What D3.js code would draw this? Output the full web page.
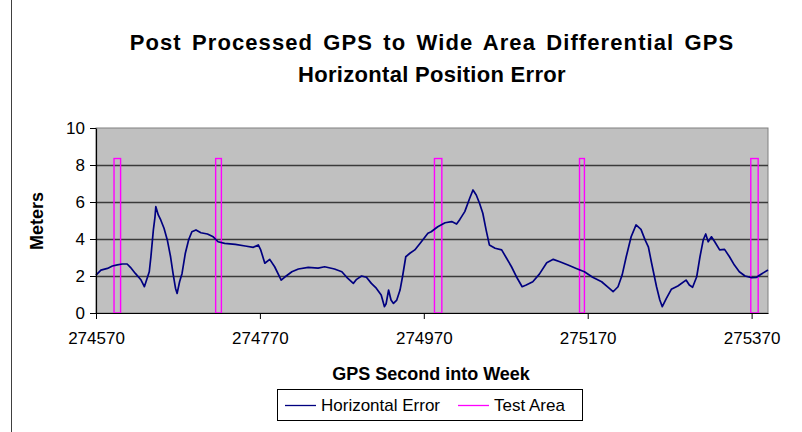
<!DOCTYPE html>
<html>
<head>
<meta charset="utf-8">
<script src="https://cdn.jsdelivr.net/npm/d3@7"></script>
<style>
  body { margin: 0; background: #fff; }
  svg { display: block; font-family: Arial, "Liberation Sans", sans-serif; }
</style>
</head>
<body>
<div id="chart"></div>
<script>
// GPS second into week vs horizontal error (meters)
const gpsSeconds = [
  274570, 274576, 274584, 274590, 274596, 274602, 274608, 274612, 274618, 274625,
  274629, 274633, 274635, 274637, 274640, 274642, 274643, 274646, 274649, 274653,
  274657, 274661, 274664, 274667, 274669, 274672, 274675, 274679, 274683, 274687,
  274692, 274698, 274706, 274713, 274719, 274727, 274740, 274752, 274762, 274768,
  274771, 274776, 274782, 274788, 274796, 274800, 274809, 274817, 274829, 274841,
  274849, 274861, 274870, 274876, 274884, 274888, 274894, 274900, 274906, 274912,
  274918, 274922, 274924, 274927, 274930, 274933, 274937, 274941, 274944, 274948,
  274953, 274959, 274967, 274975, 274979, 274987, 274996, 275004, 275010, 275014,
  275020, 275026, 275030, 275034, 275038, 275042, 275046, 275050, 275057, 275065,
  275071, 275077, 275083, 275090, 275095, 275103, 275111, 275120, 275128, 275136,
  275146, 275156, 275166, 275176, 275187, 275195, 275201, 275207, 275212, 275217,
  275223, 275229, 275235, 275240, 275244, 275248, 275254, 275258, 275261, 275266,
  275272, 275280, 275290, 275294, 275298, 275303, 275307, 275311, 275314, 275317,
  275321, 275325, 275331, 275337, 275343, 275349, 275355, 275362, 275370, 275376,
  275382, 275390
];
const horizError = [
  2.05, 2.32, 2.41, 2.54, 2.60, 2.65, 2.65, 2.47, 2.14, 1.78,
  1.42, 1.96, 2.23, 3.04, 4.49, 5.20, 5.75, 5.30, 5.03, 4.58,
  3.95, 3.04, 2.14, 1.34, 1.06, 1.69, 2.14, 3.23, 3.95, 4.39,
  4.49, 4.34, 4.27, 4.12, 3.85, 3.76, 3.71, 3.62, 3.55, 3.68,
  3.41, 2.69, 2.90, 2.50, 1.78, 1.93, 2.23, 2.38, 2.47, 2.43,
  2.50, 2.38, 2.23, 1.93, 1.60, 1.82, 2.00, 1.93, 1.60, 1.34,
  0.97, 0.34, 0.50, 1.24, 0.70, 0.52, 0.70, 1.24, 1.96, 3.04,
  3.23, 3.41, 3.85, 4.31, 4.39, 4.66, 4.88, 4.94, 4.81, 5.06,
  5.48, 6.20, 6.65, 6.38, 5.93, 5.39, 4.49, 3.68, 3.50, 3.41,
  2.96, 2.50, 1.96, 1.42, 1.51, 1.69, 2.10, 2.72, 2.90, 2.77,
  2.59, 2.41, 2.23, 1.93, 1.69, 1.39, 1.15, 1.42, 2.05, 3.04,
  4.12, 4.76, 4.52, 3.95, 3.58, 2.69, 1.42, 0.70, 0.34, 0.79,
  1.28, 1.46, 1.78, 1.51, 1.39, 1.96, 3.04, 3.95, 4.27, 3.85,
  4.12, 3.85, 3.41, 3.44, 3.04, 2.59, 2.23, 2.00, 1.91, 1.93,
  2.11, 2.32
];

// test areas (start / end second), drawn as tall open boxes
const testStart = [274592, 274716, 274983, 275160, 275369];
const testEnd   = [274600, 274723, 274992, 275166, 275378];
const testHeight = 8.35;

const xTicks = [274570, 274770, 274970, 275170, 275370];
const yTicks = [0, 2, 4, 6, 8, 10];
const titleLines = ["Post Processed GPS to Wide Area Differential GPS", "Horizontal Position Error"];

const width = 802, height = 432;
const plot = { left: 96, top: 128, right: 768, bottom: 313 };

const svg = d3.select("#chart").append("svg")
  .attr("width", width)
  .attr("height", height);

// chart frame edge on the left
svg.append("line")
  .attr("x1", 11.5).attr("x2", 11.5)
  .attr("y1", 0).attr("y2", height)
  .attr("stroke", "#404040");

const x = d3.scaleLinear().domain([274570, 275390]).range([plot.left, plot.right]);
const y = d3.scaleLinear().domain([0, 10]).range([plot.bottom, plot.top]);

svg.append("rect")
  .attr("x", plot.left).attr("y", plot.top)
  .attr("width", plot.right - plot.left)
  .attr("height", plot.bottom - plot.top)
  .attr("fill", "#c0c0c0")
  .attr("stroke", "#808080");

// gridlines
svg.append("g")
  .selectAll("line")
  .data(yTicks.filter(d => d > 0 && d < 10))
  .enter()
  .append("line")
  .attr("x1", plot.left).attr("x2", plot.right)
  .attr("y1", d => Math.round(y(d)) + 0.5)
  .attr("y2", d => Math.round(y(d)) + 0.5)
  .attr("stroke", "#3a3a3a")
  .attr("stroke-width", 1.3);

// test area boxes
svg.append("g")
  .selectAll("rect")
  .data(testStart.map((s, i) => ({ s: s, e: testEnd[i] })))
  .enter()
  .append("rect")
  .attr("x", d => x(d.s))
  .attr("y", y(testHeight))
  .attr("width", d => x(d.e) - x(d.s))
  .attr("height", y(0) - y(testHeight))
  .attr("fill", "none")
  .attr("stroke", "#ff00ff")
  .attr("stroke-width", 1.4);

// horizontal error trace
const line = d3.line()
  .x((d, i) => x(gpsSeconds[i]))
  .y(d => y(d));

svg.append("path")
  .datum(horizError)
  .attr("d", line)
  .attr("fill", "none")
  .attr("stroke", "#000080")
  .attr("stroke-width", 1.7)
  .attr("stroke-linejoin", "round");

// axes
const xAxis = svg.append("g")
  .attr("transform", `translate(0,${plot.bottom})`)
  .call(d3.axisBottom(x).tickValues(xTicks).tickFormat(d3.format("d")).tickSize(6).tickSizeOuter(0));
const yAxis = svg.append("g")
  .attr("transform", `translate(${plot.left},0)`)
  .call(d3.axisLeft(y).tickValues(yTicks).tickSize(6).tickSizeOuter(0));

[xAxis, yAxis].forEach(ax => {
  ax.select(".domain").attr("stroke", "#000").attr("stroke-width", 1.2);
  ax.selectAll(".tick line").attr("stroke", "#000");
  ax.selectAll("text")
    .attr("fill", "#000")
    .style("font-size", "17px")
    .style("font-family", "Arial, 'Liberation Sans', sans-serif");
});
xAxis.selectAll("text").attr("dy", "1.3em");
yAxis.selectAll("text").attr("x", -11);

// titles
svg.append("g")
  .selectAll("text")
  .data(titleLines)
  .enter()
  .append("text")
  .attr("x", (plot.left + plot.right) / 2)
  .attr("y", (d, i) => 50 + i * 32)
  .attr("text-anchor", "middle")
  .style("font-size", "22px")
  .style("font-weight", "bold")
  .style("letter-spacing", (d, i) => i === 0 ? "1.1px" : "0.3px")
  .style("word-spacing", (d, i) => i === 0 ? "3px" : "0px")
  .text(d => d);

svg.append("text")
  .attr("x", 431)
  .attr("y", 380)
  .attr("text-anchor", "middle")
  .style("font-size", "18px")
  .style("font-weight", "bold")
  .text("GPS Second into Week");

svg.append("text")
  .attr("transform", "translate(43,221) rotate(-90)")
  .attr("text-anchor", "middle")
  .style("font-size", "18px")
  .style("font-weight", "bold")
  .text("Meters");

// legend
const legend = svg.append("g");
legend.append("rect")
  .attr("x", 277.5).attr("y", 389.5)
  .attr("width", 305).attr("height", 31)
  .attr("fill", "#fff")
  .attr("stroke", "#000");

const legendItems = [
  { label: "Horizontal Error", color: "#000080", x0: 285 },
  { label: "Test Area", color: "#ff00ff", x0: 458 }
];
legendItems.forEach(it => {
  legend.append("line")
    .attr("x1", it.x0).attr("x2", it.x0 + 31)
    .attr("y1", 405.5).attr("y2", 405.5)
    .attr("stroke", it.color)
    .attr("stroke-width", 1.3);
  legend.append("text")
    .attr("x", it.x0 + 36)
    .attr("y", 411)
    .style("font-size", "17px")
    .text(it.label);
});
</script>
</body>
</html>
